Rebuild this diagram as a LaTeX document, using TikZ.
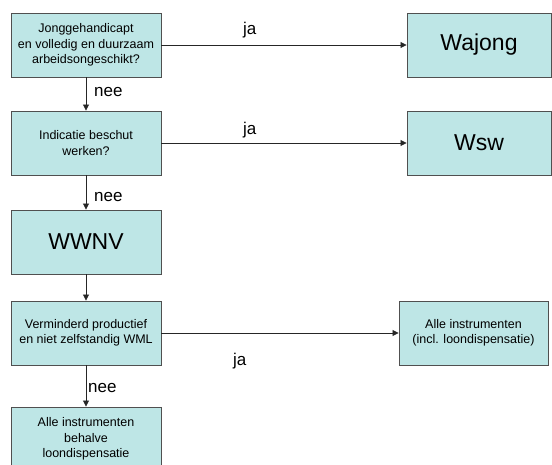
\documentclass[tikz,border=0pt]{standalone}
\usepackage{fontspec}
\setmainfont{Liberation Sans}
\usetikzlibrary{arrows.meta}
\definecolor{boxfill}{RGB}{190,230,230}
\definecolor{boxline}{RGB}{80,80,80}
\begin{document}
\begin{tikzpicture}[x=1pt,y=-1pt,
  box/.style={draw=boxline,line width=0.9pt,fill=boxfill,minimum width=150pt,minimum height=64pt,
    align=center,inner sep=0pt,font=\fontsize{12.5}{15.5}\selectfont},
  bigbox/.style={box,minimum width=144pt,font=\fontsize{23}{26}\selectfont},
  conn/.style={draw=black!85,line width=0.8pt,-{Triangle[length=6pt,width=6pt]}},
  lbl/.style={anchor=base west,inner sep=0pt,font=\fontsize{17}{20}\selectfont}]
\useasboundingbox (0,0) rectangle (552,465);
\node[box] (b1) at (86,45) {Jonggehandicapt\\en volledig en duurzaam\\arbeidsongeschikt?};
\node[bigbox] (waj) at (479,45) {Wajong};
\node[box] (b2) at (86,143) {Indicatie beschut\\werken?};
\node[bigbox] (wsw) at (479,143) {Wsw};
\node[box,font=\fontsize{23}{26}\selectfont] (wwnv) at (86,242) {WWNV};
\node[box] (b4) at (86,333) {Verminderd productief\\en niet zelfstandig WML};
\node[box,minimum width=149pt] (alle) at (473.5,333) {Alle instrumenten\\(incl. loondispensatie)};
\node[box] (b6) at (86,439) {Alle instrumenten\\behalve\\loondispensatie};
\draw[conn] (b1) -- (waj);
\draw[conn] (b2) -- (wsw);
\draw[conn] (b4) -- (alle);
\draw[conn] (b1) -- (b2);
\draw[conn] (b2) -- (wwnv);
\draw[conn] (wwnv) -- (b4);
\draw[conn] (b4) -- (b6);
\node[lbl] (ja1) at (243,35) {ja};
\node[lbl] (ja2) at (243,135) {ja};
\node[lbl] (ja3) at (233,366) {ja};
\node[lbl] (nee1) at (94,97) {nee};
\node[lbl] (nee2) at (94,202) {nee};
\node[lbl] (nee3) at (88,392) {nee};
\end{tikzpicture}
\end{document}
